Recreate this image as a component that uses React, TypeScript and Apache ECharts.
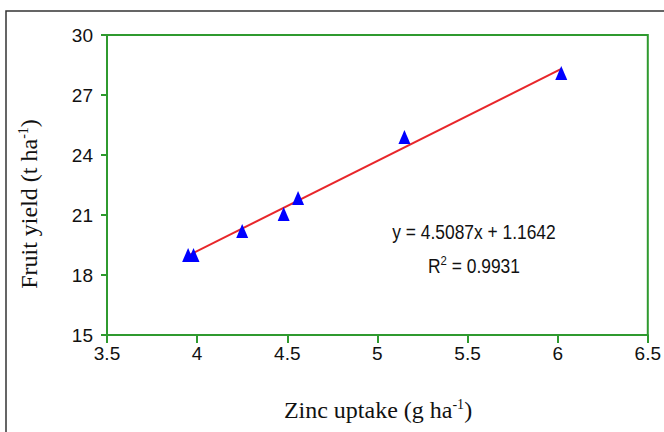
import React, { useEffect, useRef } from "react";
import * as echarts from "echarts";

const zincUptake = [3.95, 3.98, 4.25, 4.48, 4.56, 5.15, 6.02];
const fruitYield = [19.0, 19.0, 20.2, 21.05, 21.85, 24.9, 28.1];
const slope = 4.5087;
const intercept = 1.1642;
const rSquared = 0.9931;
const trendX = [3.95, 6.02];
const xTicks = { min: 3.5, max: 6.5, interval: 0.5 };
const yTicks = { min: 15, max: 30, interval: 3 };

const GREEN = "#2f9a2f";
const TICK_FONT = "'Liberation Sans', Arial, sans-serif";
const SERIF = "'Liberation Serif', 'Times New Roman', serif";

export default function App() {
  const ref = useRef<HTMLDivElement>(null);
  useEffect(() => {
    if (!ref.current) return;
    const chart = echarts.init(ref.current, undefined, { renderer: "svg" });
    const points = zincUptake.map((x, i) => [x, fruitYield[i]]);
    const trend = trendX.map((x) => [x, slope * x + intercept]);
    chart.setOption({
      animation: false,
      backgroundColor: "#ffffff",
      grid: {
        left: 107,
        right: 12,
        top: 35,
        bottom: 97,
        show: true,
        borderColor: GREEN,
        borderWidth: 2,
        backgroundColor: "transparent",
      },
      xAxis: {
        type: "value",
        min: xTicks.min,
        max: xTicks.max,
        interval: xTicks.interval,
        axisLine: { show: true, lineStyle: { color: GREEN, width: 2 } },
        axisTick: { show: true, length: 8, lineStyle: { color: GREEN, width: 2 } },
        splitLine: { show: false },
        axisLabel: { color: "#111", fontSize: 19, fontFamily: TICK_FONT, margin: 9 },
      },
      yAxis: {
        type: "value",
        min: yTicks.min,
        max: yTicks.max,
        interval: yTicks.interval,
        axisLine: { show: true, lineStyle: { color: GREEN, width: 2 } },
        axisTick: { show: true, length: 6, lineStyle: { color: GREEN, width: 2 } },
        splitLine: { show: false },
        axisLabel: { color: "#111", fontSize: 19, fontFamily: TICK_FONT, margin: 14 },
      },
      series: [
        {
          type: "line",
          data: trend,
          symbol: "none",
          lineStyle: { color: "#e8262a", width: 2 },
          z: 2,
        },
        {
          type: "scatter",
          data: points,
          symbol: "triangle",
          symbolSize: [12, 14],
          itemStyle: { color: "#0000ff", opacity: 1 },
          z: 3,
        },
      ],
      graphic: [
        {
          type: "polyline",
          shape: { points: [[6, 432], [6, 11], [664, 11]] },
          style: { stroke: "#333", lineWidth: 1.5, fill: "none" },
          silent: true,
        },
        {
          type: "text",
          x: 378,
          y: 410,
          style: {
            text: "{a|Zinc uptake (g ha}{s|-1}{a|)}",
            align: "center",
            verticalAlign: "middle",
            rich: {
              a: { fontFamily: SERIF, fontSize: 24, fill: "#111" },
              s: { fontFamily: SERIF, fontSize: 14, fill: "#111", padding: [0, 0, 12, 0] },
            },
          },
        },
        {
          type: "text",
          x: 29,
          y: 204,
          rotation: Math.PI / 2,
          style: {
            text: "{a|Fruit yield (t ha}{s|-1}{a|)}",
            align: "center",
            verticalAlign: "middle",
            rich: {
              a: { fontFamily: SERIF, fontSize: 24, fill: "#111" },
              s: { fontFamily: SERIF, fontSize: 14, fill: "#111", padding: [0, 0, 12, 0] },
            },
          },
        },
        {
          type: "text",
          x: 474,
          y: 232,
          scaleX: 0.87,
          style: {
            text: `y = ${slope}x + ${intercept}`,
            align: "center",
            verticalAlign: "middle",
            fontFamily: TICK_FONT,
            fontSize: 20,
            fill: "#111",
          },
        },
        {
          type: "text",
          x: 474,
          y: 266,
          scaleX: 0.87,
          style: {
            text: `{a|R}{s|2}{a| = ${rSquared}}`,
            align: "center",
            verticalAlign: "middle",
            rich: {
              a: { fontFamily: TICK_FONT, fontSize: 20, fill: "#111" },
              s: { fontFamily: TICK_FONT, fontSize: 13, fill: "#111", padding: [0, 0, 11, 0] },
            },
          },
        },
      ],
    });
    return () => chart.dispose();
  }, []);
  return (
    <div
      ref={ref}
      style={{ position: "absolute", left: 0, top: 0, width: 664, height: 432 }}
    />
  );
}
